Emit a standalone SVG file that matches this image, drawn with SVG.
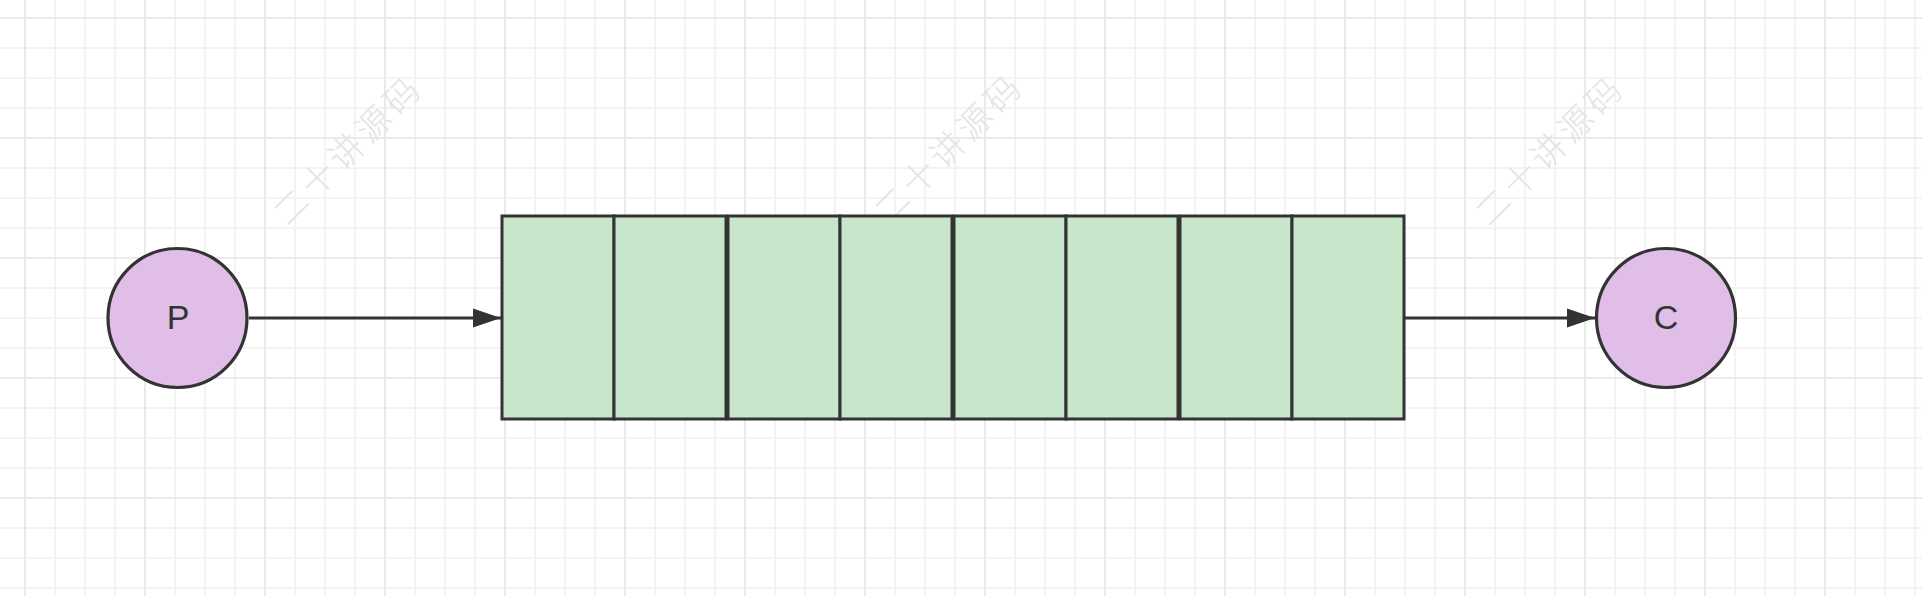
<svg xmlns="http://www.w3.org/2000/svg" width="1922" height="596" viewBox="0 0 1922 596">
<defs>
<pattern id="minor" x="24" y="17" width="30" height="30" patternUnits="userSpaceOnUse"><path d="M1 0V30M0 1H30" stroke="#f3f3f3" stroke-width="2" fill="none"/></pattern>
<pattern id="major" x="24" y="17" width="120" height="120" patternUnits="userSpaceOnUse"><path d="M1 0V120M0 1H120" stroke="#eaeaea" stroke-width="2" fill="none"/></pattern>
<marker id="arr" markerUnits="userSpaceOnUse" markerWidth="30" markerHeight="22" refX="28" refY="10" orient="auto"><path d="M0 0.5L28 10L0 19.5Z" fill="#333"/></marker>
</defs>
<style>
.cell{fill:#c8e6c9;stroke:#333;stroke-width:3}
.circ{fill:#e1bee7;stroke:#333;stroke-width:3.2}
.lbl{font-family:"Liberation Sans",Arial,sans-serif;font-size:34px;fill:#333;text-anchor:middle}
.wm{font-family:"Noto Sans CJK SC",sans-serif;font-size:34px;font-weight:300;fill:#e4e4e4;letter-spacing:5px;text-anchor:middle}
.edge{stroke:#333;stroke-width:3;fill:none}
</style>
<rect width="1922" height="596" fill="#fff"/>
<rect width="1922" height="596" fill="url(#minor)"/>
<rect width="1922" height="596" fill="url(#major)"/>
<g id="watermarks">
<text class="wm" transform="translate(348 150) rotate(-45)" y="12">二十讲源码</text>
<text class="wm" transform="translate(949 148) rotate(-45)" y="12">二十讲源码</text>
<text class="wm" transform="translate(1550 150) rotate(-45)" y="12">二十讲源码</text>
</g>
<g id="connectors">
<path class="edge" d="M249 318H501" marker-end="url(#arr)"/>
<path class="edge" d="M1405 318H1595" marker-end="url(#arr)"/>
</g>
<g id="P"><circle class="circ" cx="177.5" cy="318" r="69.5"/><text class="lbl" x="178" y="329">P</text></g>
<g id="queue">
<rect class="cell" x="502" y="216" width="112" height="203"/>
<rect class="cell" x="614" y="216" width="112" height="203"/>
<rect class="cell" x="728" y="216" width="112" height="203"/>
<rect class="cell" x="840" y="216" width="112" height="203"/>
<rect class="cell" x="954" y="216" width="112" height="203"/>
<rect class="cell" x="1066" y="216" width="112" height="203"/>
<rect class="cell" x="1180" y="216" width="112" height="203"/>
<rect class="cell" x="1292" y="216" width="112" height="203"/>
</g>
<g id="C"><circle class="circ" cx="1666" cy="318" r="69.5"/><text class="lbl" x="1666" y="329">C</text></g>
</svg>
